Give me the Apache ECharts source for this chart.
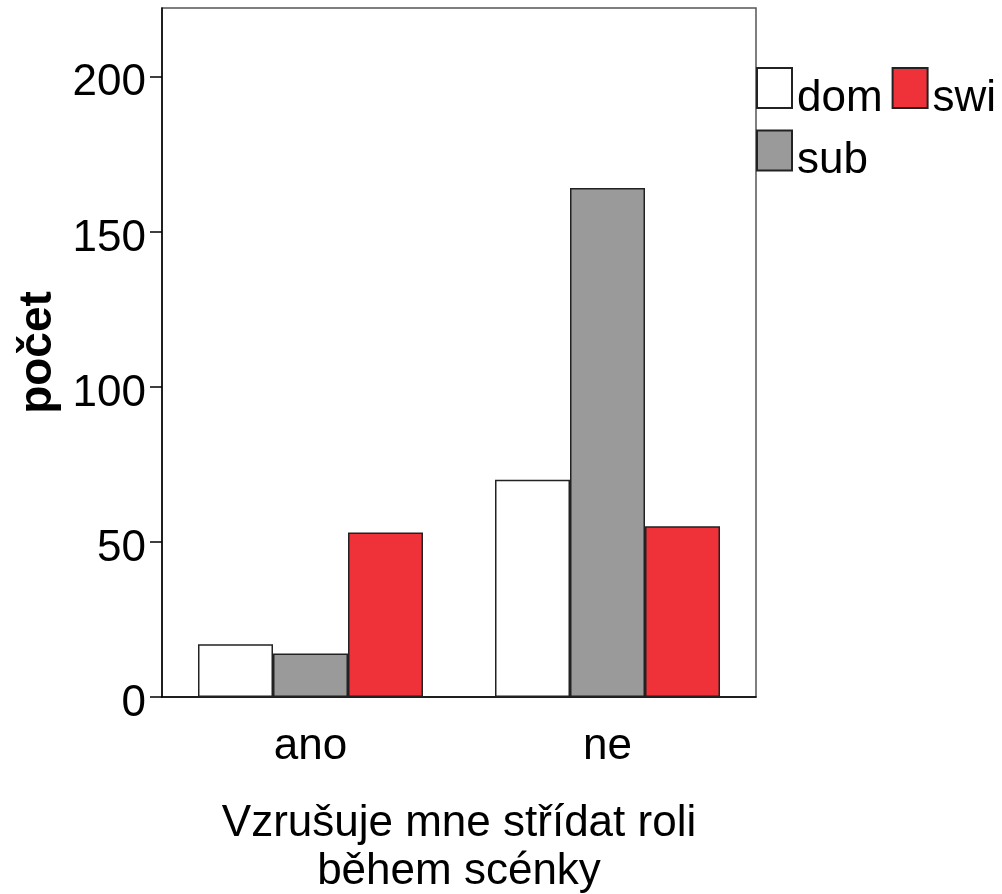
<!DOCTYPE html>
<html>
<head>
<meta charset="utf-8">
<script src="https://cdn.jsdelivr.net/npm/echarts@6/dist/echarts.min.js"></script>
<style>
  html, body { margin: 0; padding: 0; background: #fff; }
  #chart { width: 1002px; height: 894px; }
</style>
</head>
<body>
<div id="chart"></div>
<script>
  // kategorie a hodnoty
  const categories = ['ano', 'ne']
  const dom = [17, 70]
  const sub = [14, 164]
  const swi = [53, 55]
  const yTicks = [0, 50, 100, 150, 200]

  const font = '"Liberation Sans", Arial, sans-serif'
  const edge = '#222'

  let mychart = echarts.init(document.getElementById('chart'))
  mychart.setOption({
    animation: false,
    textStyle: { fontFamily: font, color: '#000' },
    grid: {
      left: 162,
      right: 246,
      top: 8,
      bottom: 197,
      outerBoundsMode: 'none',
      containLabel: false,
      show: true,
      borderColor: '#555',
      borderWidth: 1.5,
      backgroundColor: '#fff'
    },
    legend: {
      data: ['dom', 'swi', 'sub'],
      left: 756,
      top: 67,
      width: 246,
      padding: 0,
      itemWidth: 35,
      itemHeight: 40,
      itemGap: 9,
      icon: 'rect',
      formatter: '{t|{name}}',
      textStyle: {
        fontSize: 44,
        fontFamily: font,
        color: '#000',
        rich: {
          t: { fontSize: 44, padding: [16, 0, -5, 0], fontFamily: font, color: '#000' }
        }
      }
    },
    xAxis: {
      type: 'category',
      data: categories,
      name: 'Vzrušuje mne střídat roli\nběhem scénky',
      nameLocation: 'middle',
      nameGap: 103,
      nameTextStyle: { fontSize: 44, lineHeight: 48, fontFamily: font, color: '#000' },
      axisLine: { lineStyle: { color: '#000', width: 1.5 } },
      axisTick: { alignWithLabel: true, length: 15, lineStyle: { color: '#000', width: 1.5 } },
      axisLabel: { fontSize: 44, margin: 28, color: '#000', fontFamily: font }
    },
    yAxis: {
      type: 'value',
      min: 0,
      max: 222,
      interval: 50,
      name: 'počet',
      nameLocation: 'middle',
      nameGap: 86,
      nameTextStyle: { fontSize: 46, fontWeight: 'bold', fontFamily: font, color: '#000' },
      splitLine: { show: false },
      axisLine: { show: true, lineStyle: { color: '#000', width: 1.5 } },
      axisTick: { show: true, length: 12, customValues: yTicks, lineStyle: { color: '#000', width: 1.5 } },
      axisLabel: {
        fontSize: 44, margin: 16, color: '#000', fontFamily: font,
        customValues: yTicks, verticalAlign: 'top', lineHeight: 14
      }
    },
    series: [
      {
        name: 'dom',
        type: 'bar',
        barWidth: 75,
        barGap: '0%',
        itemStyle: { color: '#ffffff', borderColor: edge, borderWidth: 1.5 },
        data: dom
      },
      {
        name: 'sub',
        type: 'bar',
        barWidth: 75,
        barGap: '0%',
        itemStyle: { color: '#9a9a9a', borderColor: edge, borderWidth: 1.5 },
        data: sub
      },
      {
        name: 'swi',
        type: 'bar',
        barWidth: 75,
        barGap: '0%',
        itemStyle: { color: '#ef3139', borderColor: edge, borderWidth: 1.5 },
        data: swi
      }
    ]
  })
</script>
</body>
</html>
